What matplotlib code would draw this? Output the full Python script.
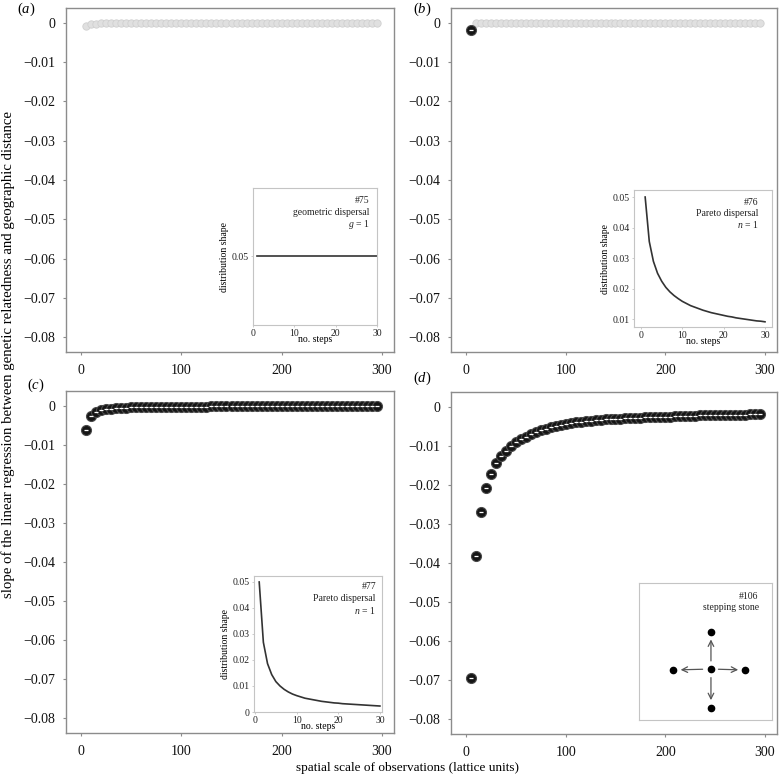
import matplotlib
matplotlib.use("Agg")
import matplotlib.pyplot as plt

plt.rcParams['font.family'] = ['Liberation Serif', 'DejaVu Serif']
plt.rcParams['mathtext.fontset'] = 'custom'
plt.rcParams['mathtext.it'] = 'Liberation Serif:italic'
plt.rcParams['mathtext.rm'] = 'Liberation Serif'

# ---------------- data ----------------
scale = list(range(5, 300, 5))  # spatial scale of observations (lattice units)

slope_a = [-0.0009, -0.0003, -0.0002, -0.0001] + [0.0] * 55
sig_a = [False] * 59

slope_b = [-0.0018] + [0.0] * 58
sig_b = [True] + [False] * 58

slope_c = [-0.0063, -0.0025, -0.0015, -0.0011, -0.0008, -0.0007, -0.0006, -0.0005,
           -0.0005, -0.0004, -0.0004, -0.0003, -0.0003, -0.0003, -0.0003, -0.0003,
           -0.0002, -0.0002, -0.0002, -0.0002, -0.0002, -0.0002, -0.0002, -0.0002,
           -0.0002, -0.0001, -0.0001, -0.0001, -0.0001, -0.0001, -0.0001, -0.0001,
           -0.0001, -0.0001, -0.0001, -0.0001, -0.0001, -0.0001, -0.0001, -0.0001,
           -0.0001, -0.0001, -0.0001, -0.0001, -0.0001, -0.0001, -0.0001, -0.0001,
           -0.0001, -0.0001, -0.0001, -0.0001, -0.0001, -0.0001, -0.0001, -0.0001,
           -0.0001, -0.0001, -0.0001]
sig_c = [True] * 59

slope_d = [-0.0695, -0.0381, -0.0270, -0.0209, -0.0172, -0.0144, -0.0126, -0.0112,
           -0.0100, -0.0091, -0.0083, -0.0076, -0.0069, -0.0064, -0.0060, -0.0056,
           -0.0052, -0.0049, -0.0046, -0.0043, -0.0041, -0.0039, -0.0038, -0.0036,
           -0.0035, -0.0034, -0.0033, -0.0032, -0.0031, -0.0030, -0.0030, -0.0029,
           -0.0029, -0.0028, -0.0028, -0.0027, -0.0027, -0.0026, -0.0026, -0.0025,
           -0.0025, -0.0024, -0.0024, -0.0023, -0.0023, -0.0023, -0.0022, -0.0022,
           -0.0022, -0.0021, -0.0021, -0.0021, -0.0020, -0.0020, -0.0020, -0.0020,
           -0.0019, -0.0019, -0.0019]
sig_d = [True] * 59

y_ticks = [0, -0.01, -0.02, -0.03, -0.04, -0.05, -0.06, -0.07, -0.08]
y_ticklabels = ['0', '\u22120.01', '\u22120.02', '\u22120.03', '\u22120.04',
                '\u22120.05', '\u22120.06', '\u22120.07', '\u22120.08']
x_ticks = [0, 100, 200, 300]

# inset dispersal kernels
steps = list(range(1, 31))
kernel_a = [0.05] * 30
kernel_b = [0.0500, 0.0354, 0.0289, 0.0250, 0.0224, 0.0204, 0.0189, 0.0177, 0.0167, 0.0158,
            0.0151, 0.0144, 0.0139, 0.0134, 0.0129, 0.0125, 0.0121, 0.0118, 0.0115, 0.0112,
            0.0109, 0.0107, 0.0104, 0.0102, 0.0100, 0.0098, 0.0096, 0.0094, 0.0093, 0.0091]
kernel_c = [0.0500, 0.0268, 0.0186, 0.0144, 0.0117, 0.0100, 0.0087, 0.0077, 0.0069, 0.0063,
            0.0058, 0.0053, 0.0050, 0.0047, 0.0044, 0.0041, 0.0039, 0.0037, 0.0035, 0.0034,
            0.0032, 0.0031, 0.0030, 0.0029, 0.0028, 0.0027, 0.0026, 0.0025, 0.0024, 0.0023]

inset_texts = {
    'a': ['#75', 'geometric dispersal', '$g$ = 1'],
    'b': ['#76', 'Pareto dispersal', '$n$ = 1'],
    'c': ['#77', 'Pareto dispersal', '$n$ = 1'],
    'd': ['#106', 'stepping stone'],
}

# stepping stone diagram (inset-relative positions)
stone_x = [0.541, 0.541, 0.541, 0.256, 0.797]
stone_y = [0.372, 0.642, 0.088, 0.365, 0.365]

# ---------------- figure ----------------
W, H = 780, 777
fig = plt.figure(figsize=(W / 100, H / 100), dpi=100)

def px_axes(l, r, t, b):
    return fig.add_axes([l / W, 1 - b / H, (r - l) / W, (b - t) / H])

SPINE = '#8c8c8c'

def style_main(ax):
    for s in ax.spines.values():
        s.set_color(SPINE)
        s.set_linewidth(1.0)
    ax.set_xlim(-15, 312)
    ax.set_ylim(-0.0838, 0.0038)
    ax.set_yticks(y_ticks)
    ax.set_yticklabels(y_ticklabels)
    ax.set_xticks(x_ticks)
    ax.tick_params(axis='both', direction='out', length=2.5, width=0.8, color=SPINE,
                   labelsize=10, labelcolor='#111111')
    ax.tick_params(axis='y', pad=5)
    ax.tick_params(axis='x', pad=6)

def draw_points(ax, xs, ys, sig):
    gx = [x for x, s in zip(xs, sig) if not s]
    gy = [y for y, s in zip(ys, sig) if not s]
    bx = [x for x, s in zip(xs, sig) if s]
    by = [y for y, s in zip(ys, sig) if s]
    if gx:
        ax.plot(gx, gy, 'o', ms=5.3, mfc='#e0e0e0', mec='#d0d0d0', mew=0.6, zorder=3)
    if bx:
        ax.plot(bx, by, 'o', ms=7.2, mfc='#151515', mec='#4a4a4a', mew=0.8, zorder=4)
        ax.plot(bx, by, '_', ms=3, mec='white', mew=0.9, zorder=5)

axes_px = {
    'a': (66, 394, 8, 352),
    'b': (451, 777, 8, 352),
    'c': (66, 394, 391, 733),
    'd': (451, 777, 392, 734),
}
data = {
    'a': (slope_a, sig_a),
    'b': (slope_b, sig_b),
    'c': (slope_c, sig_c),
    'd': (slope_d, sig_d),
}
for key in 'abcd':
    ax = px_axes(*axes_px[key])
    style_main(ax)
    draw_points(ax, scale, data[key][0], data[key][1])

# ---------------- insets ----------------
INS = '#c4c4c4'
FS_IN = 7

def style_inset(ax):
    for s in ax.spines.values():
        s.set_color(INS)
        s.set_linewidth(0.8)
    ax.tick_params(axis='both', direction='out', length=1.5, width=0.6, color=INS,
                   labelsize=FS_IN, pad=1.5, labelcolor='#222222')
    ax.set_facecolor('white')

def inset_text(ax, lines, xr, y0, dy):
    for i, t in enumerate(lines):
        ax.text(xr, y0 - i * dy, t, transform=ax.transAxes, ha='right', va='center',
                fontsize=FS_IN, color='#222222')

# (a)
ia = px_axes(253, 377, 188, 325)
style_inset(ia)
ia.plot(steps, kernel_a, color='#333333', lw=1.2)
ia.set_xlim(0, 30)
ia.set_ylim(0.045, 0.055)
ia.set_xticks([0, 10, 20, 30])
ia.set_yticks([0.05])
ia.set_yticklabels(['0.05'])
ia.set_xlabel('no. steps', fontsize=FS_IN, labelpad=-2)
ia.set_ylabel('distribution shape', fontsize=FS_IN, labelpad=2)
inset_text(ia, inset_texts['a'], 0.94, 0.91, 0.088)

# (b)
ib = px_axes(634, 772, 190, 327)
style_inset(ib)
ib.plot(steps, kernel_b, color='#333333', lw=1.2)
ib.set_xlim(-1.7, 31.7)
ib.set_ylim(0.0074, 0.0523)
ib.set_xticks([0, 10, 20, 30])
ib.set_yticks([0.01, 0.02, 0.03, 0.04, 0.05])
ib.set_yticklabels(['0.01', '0.02', '0.03', '0.04', '0.05'])
ib.set_xlabel('no. steps', fontsize=FS_IN, labelpad=-2)
ib.set_ylabel('distribution shape', fontsize=FS_IN, labelpad=2)
inset_text(ib, inset_texts['b'], 0.90, 0.91, 0.08)

# (c)
ic = px_axes(254, 382, 576, 712)
style_inset(ic)
ic.plot(steps, kernel_c, color='#333333', lw=1.2)
ic.set_xlim(-0.25, 30.5)
ic.set_ylim(0, 0.0523)
ic.set_xticks([0, 10, 20, 30])
ic.set_yticks([0, 0.01, 0.02, 0.03, 0.04, 0.05])
ic.set_yticklabels(['0', '0.01', '0.02', '0.03', '0.04', '0.05'])
ic.set_xlabel('no. steps', fontsize=FS_IN, labelpad=-2)
ic.set_ylabel('distribution shape', fontsize=FS_IN, labelpad=2)
inset_text(ic, inset_texts['c'], 0.953, 0.92, 0.085)

# (d) stepping stone diagram
idd = px_axes(639, 772, 583, 720)
style_inset(idd)
idd.set_xlim(0, 1)
idd.set_ylim(0, 1)
idd.set_xticks([])
idd.set_yticks([])
idd.plot(stone_x, stone_y, 'o', color='black', ms=4.5)
cx, cy = stone_x[0], stone_y[0]
for tx, ty in zip(stone_x[1:], stone_y[1:]):
    dx, dy = tx - cx, ty - cy
    idd.annotate('', xy=(cx + dx * 0.8, cy + dy * 0.8), xytext=(cx + dx * 0.22, cy + dy * 0.22),
                 arrowprops=dict(arrowstyle='->', color='#555555', lw=0.9, shrinkA=0, shrinkB=0))
inset_text(idd, inset_texts['d'], 0.90, 0.905, 0.087)

# ---------------- labels ----------------
for lab, (x, y) in {'a': (17, 9), 'b': (413, 9), 'c': (27, 385), 'd': (413, 378)}.items():
    fig.text(x / W, 1 - y / H, '($' + lab + '$)', fontsize=10.5, ha='left', va='center')

fig.text(407 / W, 1 - 768 / H, 'spatial scale of observations (lattice units)',
         fontsize=9.5, ha='center', va='center')
fig.text(8 / W, 1 - 355 / H,
         'slope of the linear regression between genetic relatedness and geographic distance',
         fontsize=10.6, ha='center', va='center', rotation=90)

fig.savefig('out.png', dpi=100)
